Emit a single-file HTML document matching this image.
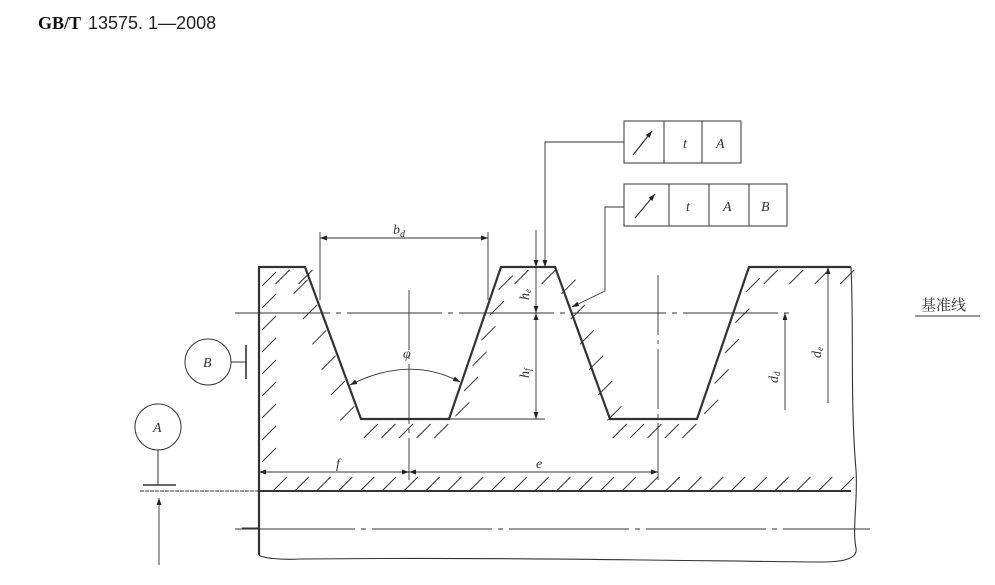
<!DOCTYPE html>
<html><head><meta charset="utf-8"><style>
html,body{margin:0;padding:0;background:#fff;width:995px;height:585px;overflow:hidden}
svg{display:block}
text{font-family:"Liberation Serif","Noto Serif CJK SC",serif;font-style:italic;fill:#333}
</style></head><body>
<svg id="s" width="995" height="585" viewBox="0 0 995 585" xmlns="http://www.w3.org/2000/svg">
<defs>
<marker id="ar" viewBox="0 0 10 10" refX="10" refY="5" markerWidth="9" markerHeight="7" orient="auto-start-reverse" markerUnits="userSpaceOnUse"><path d="M0,1.5 L10,5 L0,8.5 z" fill="#222"/></marker>
</defs>
<text x="38" y="29" style="font-style:normal;font-weight:bold;font-size:18px;fill:#111">GB/T</text>
<text x="88" y="29" style="font-family:'Liberation Sans',sans-serif;font-style:normal;font-size:18px;fill:#222">13575. 1—2008</text>

<g stroke="#333" fill="none">
<path d="M259,555 L259,267 L305,267 L361,419 L449,419 L501,267 L555,267 L610,419 L697,419 L749,267 L851,267" stroke-width="2.2"/>
<path d="M851,267 C854,330 850,400 856,470 C858,500 852,530 856,548 C858,560 840,562 820,562 C700,561 500,557 300,559 C280,560 262,558 259,555" stroke-width="1.1"/>
<line x1="259" y1="491" x2="851" y2="491" stroke-width="2"/>
<path d="M235,313 H790" stroke-width="0.9" stroke-dasharray="95,6,5,6"/>
<path d="M235,529 H870" stroke-width="0.9" stroke-dasharray="120,6,5,6"/>
<line x1="409" y1="290" x2="409" y2="480" stroke-width="0.9" stroke-dasharray="60,5,4,5"/>
<line x1="658" y1="275" x2="658" y2="480" stroke-width="0.9" stroke-dasharray="60,5,4,5"/>
<line x1="320" y1="232" x2="320" y2="300" stroke-width="0.9"/>
<line x1="488" y1="232" x2="488" y2="300" stroke-width="0.9"/>
<line x1="320" y1="238" x2="488" y2="238" stroke-width="0.9" marker-start="url(#ar)" marker-end="url(#ar)"/>
<line x1="449" y1="419" x2="545" y2="419" stroke-width="0.9"/>
<line x1="536" y1="230" x2="536" y2="267" stroke-width="0.9" marker-end="url(#ar)"/>
<line x1="536" y1="267" x2="536" y2="313" stroke-width="0.9" marker-end="url(#ar)"/>
<line x1="536" y1="313" x2="536" y2="419" stroke-width="0.9" marker-start="url(#ar)" marker-end="url(#ar)"/>
<path d="M350,385 Q409,355 460,382" stroke-width="0.9" marker-start="url(#ar)" marker-end="url(#ar)"/>
<line x1="259" y1="472" x2="409" y2="472" stroke-width="0.9" marker-start="url(#ar)" marker-end="url(#ar)"/>
<line x1="409" y1="472" x2="658" y2="472" stroke-width="0.9" marker-start="url(#ar)" marker-end="url(#ar)"/>
<line x1="785" y1="410" x2="785" y2="313" stroke-width="0.9" marker-end="url(#ar)"/>
<line x1="828" y1="403" x2="828" y2="267" stroke-width="0.9" marker-end="url(#ar)"/>
<path d="M624,142 H545 V267" stroke-width="0.9" marker-end="url(#ar)"/>
<path d="M624,207 H605 V291 L572,307" stroke-width="0.9" marker-end="url(#ar)"/>
<rect x="624" y="121" width="117" height="42" stroke-width="1"/>
<line x1="664" y1="121" x2="664" y2="163"/><line x1="702" y1="121" x2="702" y2="163"/>
<rect x="624" y="184" width="163" height="42" stroke-width="1"/>
<line x1="669" y1="184" x2="669" y2="226"/><line x1="709" y1="184" x2="709" y2="226"/><line x1="749" y1="184" x2="749" y2="226"/>
<line x1="633" y1="155" x2="652" y2="131" stroke-width="1.2" marker-end="url(#ar)"/>
<line x1="635" y1="218" x2="655" y2="194" stroke-width="1.2" marker-end="url(#ar)"/>
<circle cx="208" cy="362" r="23" stroke-width="1"/>
<line x1="231" y1="362" x2="246" y2="362"/><line x1="246" y1="345" x2="246" y2="379" stroke-width="1.6"/>
<circle cx="158" cy="427" r="23" stroke-width="1"/>
<line x1="158" y1="450" x2="158" y2="485"/><line x1="143" y1="485" x2="176" y2="485" stroke-width="1.6"/>
<path d="M140,491 H259" stroke-width="0.9" stroke-dasharray="4,1"/>
<line x1="159" y1="565" x2="159" y2="498" stroke-width="0.9" marker-end="url(#ar)"/>
<line x1="242" y1="528" x2="259" y2="528" stroke-width="0.9"/>
<line x1="915" y1="316" x2="980" y2="316" stroke-width="0.9"/>
<g id="h" stroke-width="1"></g>
</g>
<g style="font-size:14px">
<text x="393" y="234">b<tspan dy="3" font-size="10">d</tspan></text>
<text x="403" y="358">φ</text>
<text x="336" y="468">f</text>
<text x="536" y="468">e</text>
<text x="683" y="148">t</text>
<text x="716" y="148">A</text>
<text x="686" y="211">t</text>
<text x="723" y="211">A</text>
<text x="761" y="211">B</text>
<text x="203" y="367">B</text>
<text x="153" y="432">A</text>
<text transform="translate(529,300) rotate(-90)">h<tspan font-size="9" dy="2">e</tspan></text>
<text transform="translate(529,378) rotate(-90)">h<tspan font-size="9" dy="2">f</tspan></text>
<text transform="translate(778,383) rotate(-90)">d<tspan font-size="9" dy="2">d</tspan></text>
<text transform="translate(821,358) rotate(-90)">d<tspan font-size="9" dy="2">e</tspan></text>
</g>
<text x="921" y="310" style="font-style:normal;font-size:15px;fill:#333">基准线</text>
</svg>
<script>
var g=document.getElementById('h'),ns='http://www.w3.org/2000/svg';
function st(x,y){var l=document.createElementNS(ns,'line');l.setAttribute('x1',x);l.setAttribute('y1',y+14);l.setAttribute('x2',x+14);l.setAttribute('y2',y);g.appendChild(l);}
for(var y=272;y<=462;y+=22)st(262,y);
function seg(x1,y1,x2,y2,n,ox,oy){for(var i=0;i<n;i++){var t=(i+0.5)/n;st(x1+(x2-x1)*t+ox,y1+(y2-y1)*t+oy);}}
seg(259,267,305,267,2,5,3);
seg(305,267,361,419,6,-16,0);
seg(361,419,449,419,5,-6,5);
seg(449,419,501,267,6,2,-4);
seg(501,267,555,267,2,0,3);
seg(555,267,610,419,6,2,0);
seg(610,419,697,419,5,-6,5);
seg(697,419,749,267,5,2,-4);
seg(749,267,851,267,4,2,3);
seg(262,477,851,477,27,0,0);
</script>
</body></html>
